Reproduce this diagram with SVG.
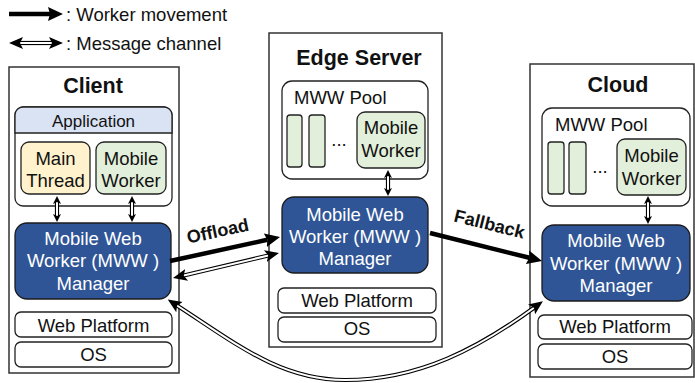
<svg xmlns="http://www.w3.org/2000/svg" width="695" height="383" viewBox="0 0 695 383">
  <style>
    text { font-family: "Liberation Sans", Arial, sans-serif; fill: #111; }
    .title { font-size: 21.5px; font-weight: bold; text-anchor: middle; }
    .lbl { font-size: 18.5px; text-anchor: middle; }
    .lblw { font-size: 18.5px; text-anchor: middle; fill: #fff; }
    .legend { font-size: 18.5px; }
    .edge-lbl { font-size: 18px; font-weight: bold; text-anchor: middle; }
    .container { fill: #fff; stroke: #333; stroke-width: 1.5; }
    .box { fill: #fff; stroke: #222; stroke-width: 1.3; }
    .mgr { fill: #2f5597; stroke: #1b1b1b; stroke-width: 1.3; }
    .worker { fill: #e2efda; stroke: #222; stroke-width: 1.3; }
    .main { fill: #fff2cc; stroke: #222; stroke-width: 1.3; }
    .move { fill: none; stroke: #000; stroke-width: 4.5; marker-end: url(#moveHead); }
    .chan-out { fill: none; stroke: #000; stroke-width: 4.2; }
    .chan-in { fill: none; stroke: #fff; stroke-width: 2; marker-start: url(#chanHead); marker-end: url(#chanHead); }
    .chan-in-s { fill: none; stroke: #fff; stroke-width: 2; marker-start: url(#chanHeadS); marker-end: url(#chanHeadS); }
  </style>
  <defs>
    <marker id="moveHead" markerUnits="userSpaceOnUse" viewBox="0 -8 16 16" markerWidth="16" markerHeight="16" refX="2" refY="0" orient="auto">
      <path d="M0,-7 L15,0 L0,7 L2,0 Z" fill="#000"/>
    </marker>
    <marker id="chanHead" markerUnits="userSpaceOnUse" viewBox="0 -7 15 14" markerWidth="15" markerHeight="14" refX="3" refY="0" orient="auto-start-reverse">
      <path d="M0,-6 L14,0 L0,6 L3,0 Z" fill="#000"/>
    </marker>
    <marker id="chanHeadS" markerUnits="userSpaceOnUse" viewBox="0 -5 9 10" markerWidth="9" markerHeight="10" refX="2" refY="0" orient="auto-start-reverse">
      <path d="M0,-4 L8,0 L0,4 L2,0 Z" fill="#000"/>
    </marker>
  </defs>

  <!-- legend -->
  <g id="legend">
    <path class="move" d="M9,14 L50,14"/>
    <text class="legend" x="66" y="21">: Worker movement</text>
    <path class="chan-out" d="M20,43 L52,43"/>
    <path class="chan-in" d="M20,43 L52,43"/>
    <text class="legend" x="66" y="50">: Message channel</text>
  </g>

  <!-- client side -->
  <g id="client">
    <rect class="container" x="9" y="67" width="170" height="306"/>
    <text class="title" x="93" y="93">Client</text>
  </g>
  <g id="client-app">
    <rect class="box" x="15" y="107" width="157" height="99" rx="8"/>
    <path d="M15,133 L15,115 A8,8 0 0 1 23,107 L164,107 A8,8 0 0 1 172,115 L172,133 Z" fill="#dae3f3" stroke="#222" stroke-width="1.3"/>
    <text x="93.5" y="127" font-size="17px" text-anchor="middle">Application</text>
  </g>
  <g id="client-main-thread">
    <rect class="main" x="21" y="142" width="69" height="52" rx="8"/>
    <text class="lbl" x="55.5" y="165">Main</text>
    <text class="lbl" x="55.5" y="187">Thread</text>
  </g>
  <g id="client-mobile-worker">
    <rect class="worker" x="96" y="142" width="70" height="52" rx="8"/>
    <text class="lbl" x="131" y="165">Mobile</text>
    <text class="lbl" x="131" y="187">Worker</text>
  </g>
  <g id="client-manager">
    <rect class="mgr" x="15" y="223" width="156" height="76" rx="12"/>
    <text class="lblw" x="93" y="245">Mobile Web</text>
    <text class="lblw" x="93" y="267">Worker (MWW )</text>
    <text class="lblw" x="93" y="290">Manager</text>
  </g>
  <g id="client-web-platform">
    <rect class="box" x="15" y="312" width="157" height="25" rx="6"/>
    <text class="lbl" x="93.5" y="332">Web Platform</text>
  </g>
  <g id="client-os">
    <rect class="box" x="15" y="342" width="157" height="25" rx="6"/>
    <text class="lbl" x="93.5" y="361">OS</text>
  </g>

  <!-- edge server -->
  <g id="edge">
    <rect class="container" x="269" y="33" width="173" height="314"/>
    <text class="title" x="359" y="65">Edge Server</text>
  </g>
  <g id="edge-pool">
    <rect class="box" x="282" y="81" width="146" height="98" rx="10"/>
    <text class="lbl" x="294" y="104" style="text-anchor:start">MWW Pool</text>
    <rect class="worker" x="287" y="115" width="15" height="52" rx="3"/>
    <rect class="worker" x="309" y="115" width="16" height="52" rx="3"/>
    <text class="lbl" x="339" y="146">...</text>
  </g>
  <g id="edge-mobile-worker">
    <rect class="worker" x="357" y="112" width="68" height="56" rx="8"/>
    <text class="lbl" x="391" y="134">Mobile</text>
    <text class="lbl" x="391" y="157">Worker</text>
  </g>
  <g id="edge-manager">
    <rect class="mgr" x="282" y="197" width="146" height="76" rx="12"/>
    <text class="lblw" x="355" y="221">Mobile Web</text>
    <text class="lblw" x="355" y="243">Worker (MWW )</text>
    <text class="lblw" x="355" y="265">Manager</text>
  </g>
  <g id="edge-web-platform">
    <rect class="box" x="278" y="288" width="158" height="25" rx="6"/>
    <text class="lbl" x="357" y="307">Web Platform</text>
  </g>
  <g id="edge-os">
    <rect class="box" x="278" y="317" width="158" height="25" rx="6"/>
    <text class="lbl" x="357" y="335">OS</text>
  </g>

  <!-- cloud -->
  <g id="cloud">
    <rect class="container" x="530" y="64" width="164" height="313"/>
    <text class="title" x="618" y="92">Cloud</text>
  </g>
  <g id="cloud-pool">
    <rect class="box" x="542" y="108" width="148" height="98" rx="10"/>
    <text class="lbl" x="555" y="131" style="text-anchor:start">MWW Pool</text>
    <rect class="worker" x="548" y="142" width="16" height="52" rx="3"/>
    <rect class="worker" x="569" y="142" width="17" height="52" rx="3"/>
    <text class="lbl" x="600" y="173">...</text>
  </g>
  <g id="cloud-mobile-worker">
    <rect class="worker" x="617" y="139" width="69" height="56" rx="8"/>
    <text class="lbl" x="651.5" y="162">Mobile</text>
    <text class="lbl" x="651.5" y="185">Worker</text>
  </g>
  <g id="cloud-manager">
    <rect class="mgr" x="542" y="225" width="148" height="76" rx="12"/>
    <text class="lblw" x="616" y="247">Mobile Web</text>
    <text class="lblw" x="616" y="270">Worker (MWW )</text>
    <text class="lblw" x="616" y="292">Manager</text>
  </g>
  <g id="cloud-web-platform">
    <rect class="box" x="538" y="315" width="154" height="24" rx="6"/>
    <text class="lbl" x="615" y="333">Web Platform</text>
  </g>
  <g id="cloud-os">
    <rect class="box" x="538" y="344" width="154" height="25" rx="6"/>
    <text class="lbl" x="615" y="363">OS</text>
  </g>

  <!-- connectors -->
  <g id="connectors">
    <!-- local message channels -->
    <path class="chan-out" d="M57,202 L57,216"/>
    <path class="chan-in-s" d="M57,202 L57,216"/>
    <path class="chan-out" d="M132,202 L132,216"/>
    <path class="chan-in-s" d="M132,202 L132,216"/>
    <path class="chan-out" d="M388,176 L388,190"/>
    <path class="chan-in-s" d="M388,176 L388,190"/>
    <path class="chan-out" d="M648,202 L648,218"/>
    <path class="chan-in-s" d="M648,202 L648,218"/>

    <!-- offload -->
    <path class="move" d="M170,261 L267.3,239.8"/>
    <text class="edge-lbl" transform="translate(219,237) rotate(-12)">Offload</text>
    <path class="chan-out" d="M183.7,275.5 L268.3,255.5"/>
    <path class="chan-in" d="M183.7,275.5 L268.3,255.5"/>

    <!-- fallback -->
    <path class="move" d="M430,233 L529.4,257.8"/>
    <text class="edge-lbl" transform="translate(488,230) rotate(14)">Fallback</text>

    <!-- client to cloud channel -->
    <path class="chan-out" d="M177,305.5 C235,343 280,380 345,380 C420,380 480,347 534,307.7"/>
    <path class="chan-in" d="M177,305.5 C235,343 280,380 345,380 C420,380 480,347 534,307.7"/>
  </g>
</svg>
